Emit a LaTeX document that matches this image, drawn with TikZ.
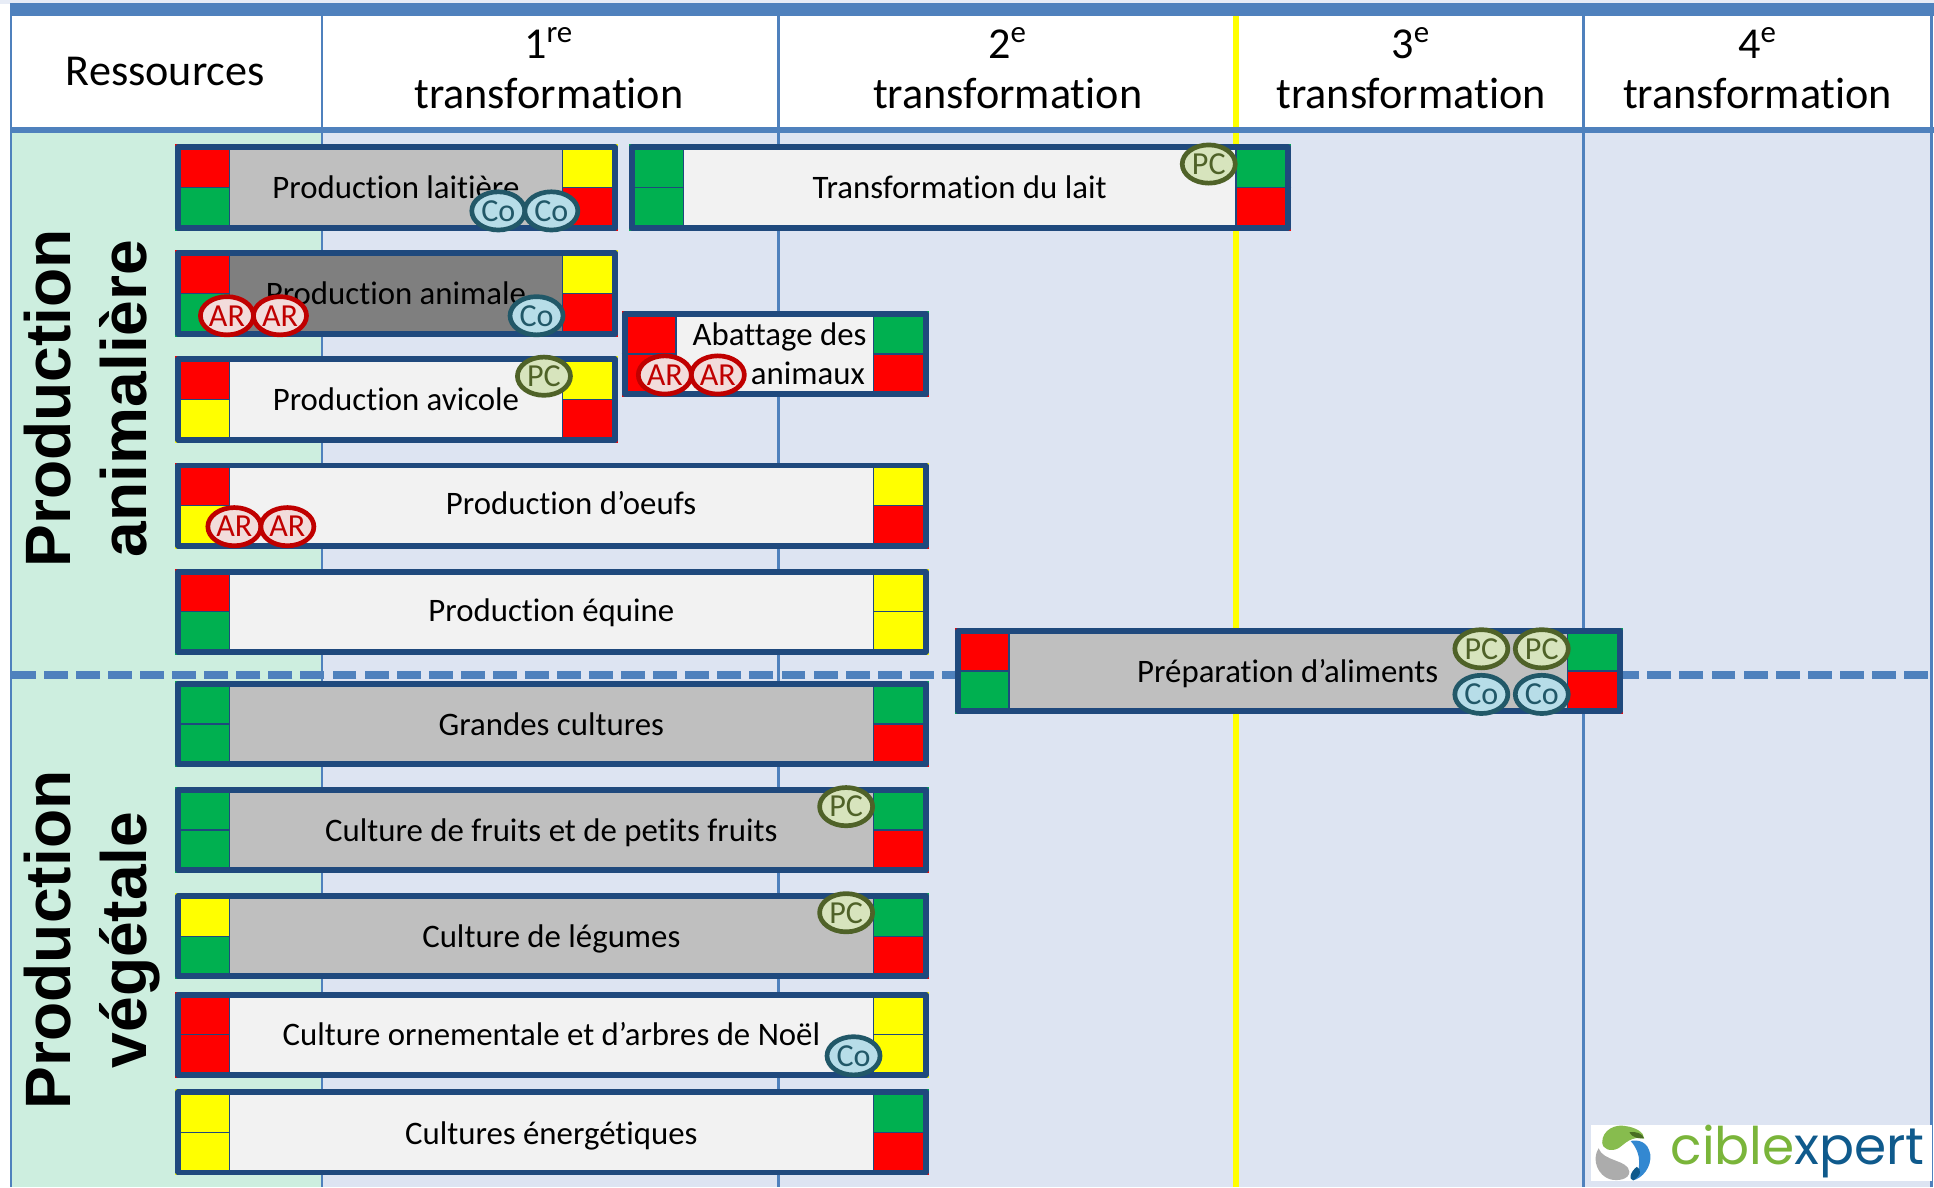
\documentclass[tikz,border=0pt]{standalone}
\usepackage{fontspec}
\setmainfont{Carlito}[Ligatures=NoCommon]
\newfontfamily\boldsans{Liberation Sans}[BoldFont={Liberation Sans Bold}]
\newfontfamily\logofont{Poppins}
\usetikzlibrary{shapes.geometric}
\definecolor{hblue}{HTML}{4F81BD}
\definecolor{bdark}{HTML}{1F497D}
\definecolor{paleb}{HTML}{DDE4F2}
\definecolor{paleg}{HTML}{CDEEDF}
\definecolor{cR}{HTML}{FF0000}
\definecolor{cG}{HTML}{00B050}
\definecolor{cY}{HTML}{FFFF00}
\definecolor{light}{HTML}{F2F2F2}
\definecolor{midg}{HTML}{BFBFBF}
\definecolor{darkg}{HTML}{7F7F7F}
\definecolor{logog}{HTML}{7AB53A}
\definecolor{logob}{HTML}{0F5A8C}
\definecolor{cCo}{HTML}{215868}\definecolor{cCof}{HTML}{B7DDE8}
\definecolor{cAr}{HTML}{C00000}\definecolor{cArf}{HTML}{F2DCDB}
\definecolor{cPc}{HTML}{4F6228}\definecolor{cPcf}{HTML}{D7E4BD}
\tikzset{
 hdr/.style={font=\fontsize{17.9}{20}\selectfont,inner sep=0pt},
 lbl/.style={font=\fontsize{13.3}{16}\selectfont,inner sep=0pt,text=black},
 big/.style={font=\boldsans\bfseries\fontsize{26}{28}\selectfont,rotate=90,anchor=base,inner sep=0pt},
 grid/.style={draw=hblue,line width=1pt},
 badge/.style={ellipse,draw,line width=1.9pt,minimum width=21.5pt,minimum height=15.5pt,inner sep=0pt,font=\fontsize{13}{14}\selectfont},
 co/.style={badge,draw=cCo,fill=cCof,text=cCo},
 ar/.style={badge,draw=cAr,fill=cArf,text=cAr},
 pc/.style={badge,draw=cPc,fill=cPcf,text=cPc},
}
% x0 x1 y0 y1 (outer edges) fill tl bl tr br
\newcommand{\bx}[9]{%
 \fill[#5] (#1,#3) rectangle (#2,#4);
 \pgfmathsetmacro{\ym}{(#3+#4)/2}\pgfmathsetmacro{\xl}{#1+44}\pgfmathsetmacro{\xr}{#2-45}
 \pgfmathsetmacro{\xa}{#1+2.4}\pgfmathsetmacro{\xb}{#2-2.4}\pgfmathsetmacro{\ya}{#3+2.4}\pgfmathsetmacro{\yb}{#4-2.4}
 \fill[#6] (#1,#3) rectangle (\xl,\ym);
 \fill[#7] (#1,\ym) rectangle (\xl,#4);
 \fill[#8] (\xr,#3) rectangle (#2,\ym);
 \fill[#9] (\xr,\ym) rectangle (#2,#4);
 \draw[bdark,line width=.5pt] (#1,\ym) -- (\xl,\ym) -- (\xl,#3) (\xl,\ym) -- (\xl,#4);
 \draw[bdark,line width=.5pt] (#2,\ym) -- (\xr,\ym) -- (\xr,#3) (\xr,\ym) -- (\xr,#4);
 \draw[bdark,line width=2.4pt,line join=round] (\xa,\ya) rectangle (\xb,\yb);
}
\begin{document}
\begin{tikzpicture}[x=0.5pt,y=-0.5pt]
\useasboundingbox (0,0) rectangle (1568,962.4);
\fill[white] (0,0) rectangle (1568,962.4);
\fill[paleb!70!white] (0,0) rectangle (1568,3);
% body
\fill[paleb] (261,105) rectangle (1566,962.4);
\fill[paleg] (10,105) rectangle (261,962.4);
% grid
\draw[grid] (261,12) -- (261,962.4);
\draw[grid] (631,12) -- (631,962.4);
\draw[grid] (1284,12) -- (1284,962.4);
\draw[cY,line width=2.6pt] (1002,12) -- (1002,962.4);
\draw[grid] (9,3) -- (9,962.4);
\draw[grid] (1566,3) -- (1566,962.4);
\fill[hblue] (8,2.4) rectangle (1568,12.7);
\fill[hblue] (8,102.7) rectangle (1568,107.6);
% header
\node[hdr] (res) at (134,58) {Ressources};
\node[hdr] (t1a) at (445,35) {1\textsuperscript{re}};
\node[hdr] (t1b) at (445,76) {transformation};
\node[hdr] (t2a) at (817,35) {2\textsuperscript{e}};
\node[hdr] (t2b) at (817,76) {transformation};
\node[hdr] (t3a) at (1144,35) {3\textsuperscript{e}};
\node[hdr] (t3b) at (1144,76) {transformation};
\node[hdr] (t4a) at (1425,35) {4\textsuperscript{e}};
\node[hdr] (t4b) at (1425,76) {transformation};
% side labels
\node[big] (pa1) at (57,323) {Production};
\node[big] (pa2) at (119,323) {animalière};
\node[big] (pv1) at (57,762) {Production};
\node[big] (pv2) at (119,762) {végétale};
% dashed divider
\draw[hblue,line width=3.2pt,dash pattern=on 9.7pt off 3.3pt] (1563,547.5) -- (10,547.5);
% boxes
\bx{142}{501}{117}{187}{midg}{cR}{cG}{cY}{cR}
\node[lbl] (b1) at (321,152) {Production laitière};
\node[co] (b1a) at (404,171) {Co};
\node[co] (b1b) at (447,171) {Co};
\bx{142}{501}{203}{273}{darkg}{cR}{cG}{cY}{cR}
\node[lbl] (b2) at (321,238) {Production animale};
\node[ar] (b2a) at (184,256) {AR};
\node[ar] (b2b) at (227,256) {AR};
\node[co] (b2c) at (435,256) {Co};
\bx{142}{501}{289}{359}{light}{cR}{cY}{cY}{cR}
\node[lbl] (b3) at (321,324) {Production avicole};
\node[pc] (b3a) at (441,305) {PC};
\bx{142}{753}{375}{445}{light}{cR}{cY}{cY}{cR}
\node[lbl] (b4) at (463,408) {Production d’oeufs};
\node[ar] (b4a) at (190,427) {AR};
\node[ar] (b4b) at (233,427) {AR};
\bx{142}{753}{461}{531}{light}{cR}{cG}{cY}{cY}
\node[lbl] (b5) at (447,497) {Production équine};
\bx{142}{753}{552}{622}{midg}{cG}{cG}{cG}{cR}
\node[lbl] (b6) at (447,587) {Grandes cultures};
\bx{142}{753}{638}{708}{midg}{cG}{cG}{cG}{cR}
\node[lbl] (b7) at (447,675) {Culture de fruits et de petits fruits};
\node[pc] (b7a) at (686,654) {PC};
\bx{142}{753}{724}{794}{midg}{cY}{cG}{cG}{cR}
\node[lbl] (b8) at (447,761) {Culture de légumes};
\node[pc] (b8a) at (686,740) {PC};
\bx{142}{753}{804}{874}{light}{cR}{cR}{cY}{cY}
\node[lbl] (b9) at (447,838) {Culture ornementale et d’arbres de Noël};
\node[co] (b9a) at (692,856) {Co};
\bx{142}{753}{883}{953}{light}{cY}{cY}{cG}{cR}
\node[lbl] (b10) at (447,921) {Cultures énergétiques};
\bx{510}{1047}{117}{187}{light}{cG}{cG}{cG}{cR}
\node[lbl] (b11) at (778,152) {Transformation du lait};
\node[pc] (b11a) at (980,133) {PC};
\bx{504}{753}{252}{322}{light}{cR}{cR}{cG}{cR}
\node[lbl] (b12a) at (632,273) {Abattage des};
\node[lbl] (b12b) at (655,303) {animaux};
\node[ar] (b12c) at (539,304) {AR};
\node[ar] (b12d) at (582,304) {AR};
\bx{774}{1316}{509}{579}{midg}{cR}{cG}{cG}{cR}
\node[lbl] (b13) at (1044,546) {Préparation d’aliments};
\node[pc] (b13a) at (1201,526) {PC};
\node[pc] (b13b) at (1250,526) {PC};
\node[co] (b13c) at (1201,563) {Co};
\node[co] (b13d) at (1250,563) {Co};
% logo
\fill[white] (1290,912) rectangle (1566,957.6);
\fill[logog!90!white] (1299,926) .. controls (1299,916) and (1310,911) .. (1318,913) .. controls (1326,914) and (1333,918) .. (1333,923) .. controls (1322,921) and (1318,927) .. (1312,931) .. controls (1306,934) and (1299,932) .. (1299,926) -- cycle;
\fill[logog!60!black] (1321,918) .. controls (1326,917) and (1332,919) .. (1333,923) .. controls (1329,923) and (1324,923) .. (1321,918) -- cycle;
\fill[cyan!60!blue!85!white] (1322,925) .. controls (1328,924) and (1336,925) .. (1338,936) .. controls (1339,946) and (1332,955) .. (1324,957) .. controls (1330,950) and (1332,936) .. (1322,925) -- cycle;
\fill[logob] (1327,946) .. controls (1331,948) and (1331,953) .. (1324,957) .. controls (1320,956) and (1322,950) .. (1327,946) -- cycle;
\fill[gray!65] (1296,931) .. controls (1300,942) and (1320,940) .. (1321,950) .. controls (1321,956) and (1312,958) .. (1305,956) .. controls (1296,953) and (1290,941) .. (1296,931) -- cycle;
\node[inner sep=0pt,anchor=base west,font=\logofont\fontsize{21}{22}\selectfont] (logo) at (1354,944) {\textcolor{logog}{cible}\textcolor{logob}{xpert}};
\end{tikzpicture}
\end{document}
